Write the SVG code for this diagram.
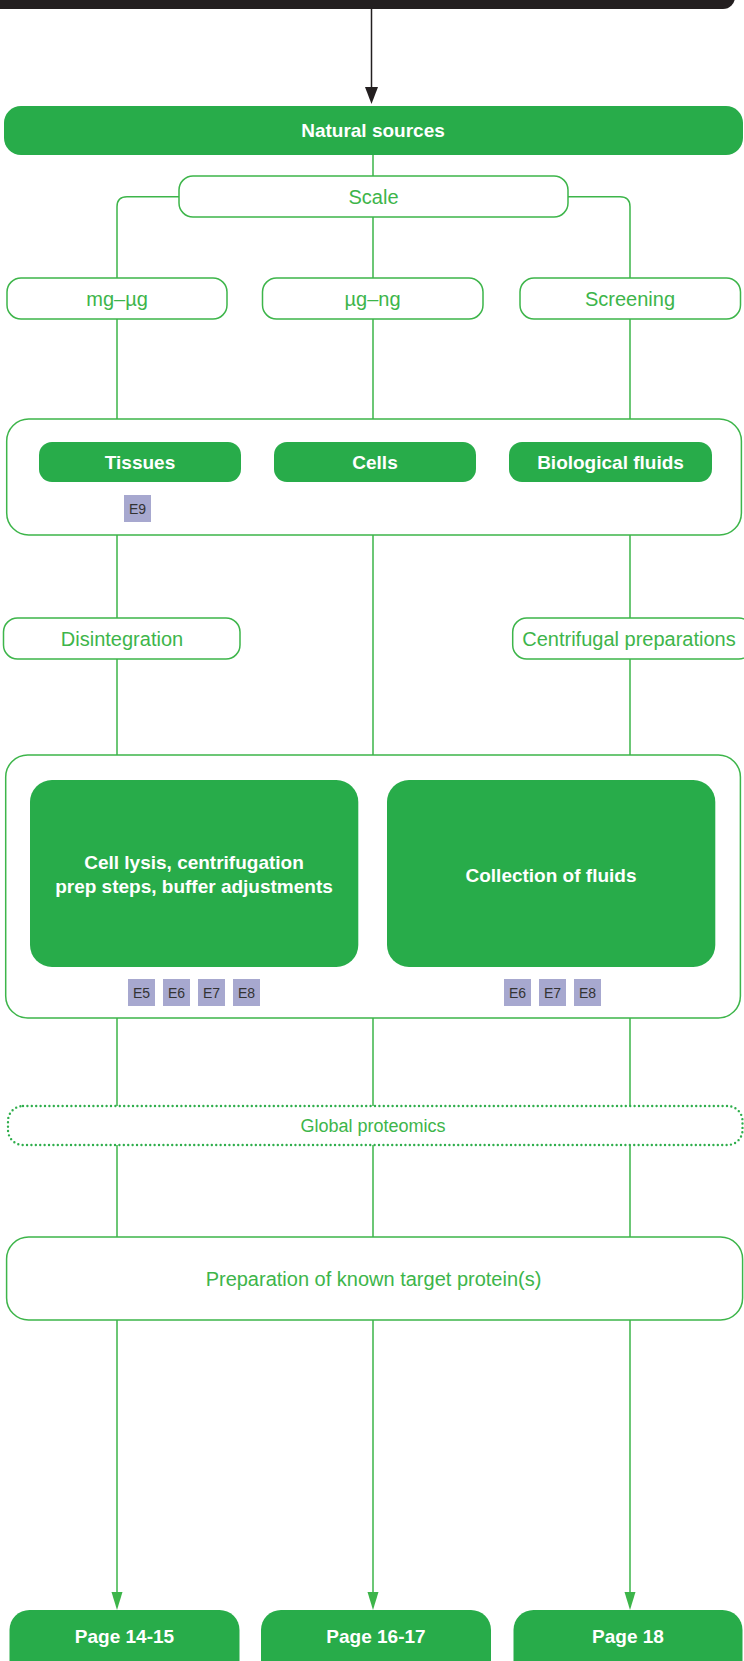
<svg xmlns="http://www.w3.org/2000/svg" width="744" height="1661" viewBox="0 0 744 1661">
<style>
.fill{fill:#28ac4a}
.out{fill:#fff;stroke:#3db54a;stroke-width:1.5}
.dot{fill:none;stroke:#2fae4c;stroke-width:2.4;stroke-dasharray:0 4.4;stroke-linecap:round}
.wl{font-family:"Liberation Sans",Arial,sans-serif;font-weight:bold;font-size:19px;fill:#fff;text-anchor:middle}
.gl{font-family:"Liberation Sans",Arial,sans-serif;font-size:20px;fill:#3db54a;text-anchor:middle}
.bd{fill:#a7a8cf}
.bt{font-family:"Liberation Sans",Arial,sans-serif;font-size:14px;fill:#333;text-anchor:middle}
.con{fill:none;stroke:#3db54a;stroke-width:1.5}
.gh{fill:#3db54a}
</style>
<g id="top-bar">
<rect x="-20" y="-40" width="755" height="49" rx="12" fill="#231f20"/>
</g>
<g id="connectors">
<line x1="371.5" y1="9" x2="371.5" y2="90" stroke="#231f20" stroke-width="1.5"/>
<polygon points="365,87 378,87 371.5,104" fill="#231f20"/>
<path class="con" d="M373,155 V176 M373,217 V278 M179,196.7 H127 Q117,196.7 117,206.7 V278 M568,196.7 H620 Q630,196.7 630,206.7 V278"/>
<path class="con" d="M117,319 V419 M373,319 V419 M630,319 V419"/>
<path class="con" d="M117,535 V618 M373,535 V755 M630,535 V618 M117,659 V755 M630,659 V755"/>
<path class="con" d="M117,1018 V1106 M373,1018 V1106 M630,1018 V1106 M117,1145 V1237 M373,1145 V1237 M630,1145 V1237"/>
<path class="con" d="M117,1320 V1596 M373,1320 V1596 M630,1320 V1596"/>
<polygon class="gh" points="111.5,1592 122.5,1592 117,1610"/>
<polygon class="gh" points="367.5,1592 378.5,1592 373,1610"/>
<polygon class="gh" points="624.5,1592 635.5,1592 630,1610"/>
</g>
<g id="natural-sources">
<rect class="fill" x="4" y="106" width="739" height="49" rx="17"/>
<text class="wl" x="373" y="137">Natural sources</text>
</g>
<g id="scale">
<rect class="out" x="179" y="176" width="389" height="41" rx="14"/>
<text class="gl" x="373.5" y="203.5">Scale</text>
</g>
<g id="mg-ug">
<rect class="out" x="7" y="278" width="220" height="41" rx="14"/>
<text class="gl" x="117" y="305.5">mg–µg</text>
</g>
<g id="ug-ng">
<rect class="out" x="262.5" y="278" width="220.5" height="41" rx="14"/>
<text class="gl" x="372.5" y="305.5">µg–ng</text>
</g>
<g id="screening">
<rect class="out" x="520" y="278" width="220.5" height="41" rx="14"/>
<text class="gl" x="630" y="305.5">Screening</text>
</g>
<g id="sources-group">
<rect class="out" x="6.7" y="419" width="734.7" height="116" rx="22"/>
</g>
<g id="tissues">
<rect class="fill" x="39" y="442" width="202" height="40" rx="13"/>
<text class="wl" x="140" y="468.5">Tissues</text>
<rect class="bd" x="124" y="495" width="27" height="27"/>
<text class="bt" x="137.5" y="513.5">E9</text>
</g>
<g id="cells">
<rect class="fill" x="274" y="442" width="202" height="40" rx="13"/>
<text class="wl" x="375" y="468.5">Cells</text>
</g>
<g id="bio-fluids">
<rect class="fill" x="509" y="442" width="203" height="40" rx="13"/>
<text class="wl" x="610.5" y="468.5">Biological fluids</text>
</g>
<g id="disintegration">
<rect class="out" x="3.5" y="618" width="236.5" height="41" rx="14"/>
<text class="gl" x="122" y="645.5">Disintegration</text>
</g>
<g id="centrifugal">
<rect class="out" x="512.7" y="618" width="240" height="41" rx="14"/>
<text class="gl" x="629" y="645.5">Centrifugal preparations</text>
</g>
<g id="prep-group">
<rect class="out" x="5.7" y="755" width="734.7" height="263" rx="22"/>
</g>
<g id="cell-lysis">
<rect class="fill" x="30" y="780" width="328.3" height="187" rx="22"/>
<text class="wl" x="194" y="869">Cell lysis, centrifugation</text>
<text class="wl" x="194" y="893">prep steps, buffer adjustments</text>
<rect class="bd" x="128" y="979" width="27" height="27"/>
<text class="bt" x="141.5" y="997.5">E5</text>
<rect class="bd" x="163" y="979" width="27" height="27"/>
<text class="bt" x="176.5" y="997.5">E6</text>
<rect class="bd" x="198" y="979" width="27" height="27"/>
<text class="bt" x="211.5" y="997.5">E7</text>
<rect class="bd" x="233" y="979" width="27" height="27"/>
<text class="bt" x="246.5" y="997.5">E8</text>
</g>
<g id="collection">
<rect class="fill" x="387" y="780" width="328.3" height="187" rx="22"/>
<text class="wl" x="551" y="882">Collection of fluids</text>
<rect class="bd" x="504" y="979" width="27" height="27"/>
<text class="bt" x="517.5" y="997.5">E6</text>
<rect class="bd" x="539" y="979" width="27" height="27"/>
<text class="bt" x="552.5" y="997.5">E7</text>
<rect class="bd" x="574" y="979" width="27" height="27"/>
<text class="bt" x="587.5" y="997.5">E8</text>
</g>
<g id="global-proteomics">
<rect class="dot" x="8" y="1106" width="734.5" height="39" rx="15"/>
<text class="gl" x="373" y="1132" style="font-size:18px">Global proteomics</text>
</g>
<g id="target-protein">
<rect class="out" x="6.6" y="1237" width="736" height="83" rx="22"/>
<text class="gl" x="373.5" y="1286">Preparation of known target protein(s)</text>
</g>
<g id="page-14-15">
<rect class="fill" x="9.5" y="1610" width="230" height="70" rx="20"/>
<text class="wl" x="124.5" y="1643">Page 14-15</text>
</g>
<g id="page-16-17">
<rect class="fill" x="261" y="1610" width="230" height="70" rx="20"/>
<text class="wl" x="376" y="1643">Page 16-17</text>
</g>
<g id="page-18">
<rect class="fill" x="513.5" y="1610" width="229" height="70" rx="20"/>
<text class="wl" x="628" y="1643">Page 18</text>
</g>
</svg>
